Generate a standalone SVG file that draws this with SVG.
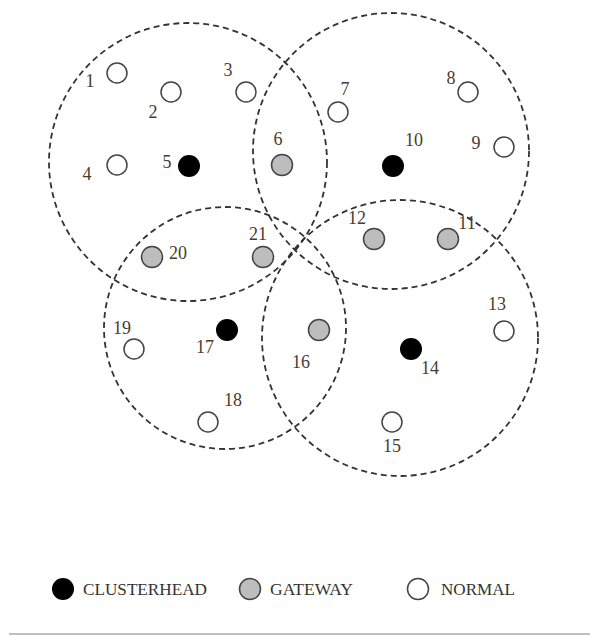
<svg xmlns="http://www.w3.org/2000/svg" width="590" height="635" viewBox="0 0 590 635">
<style>
.range{fill:none;stroke:#333;stroke-width:1.8;stroke-dasharray:6 4}
.ch{fill:#000}
.gw{fill:#bdbdbd;stroke:#444;stroke-width:1.5}
.nm{fill:#fff;stroke:#444;stroke-width:1.5}
.lbl{font-family:"Liberation Serif","Times New Roman",serif;font-size:18px;fill:#4a3c2e;text-anchor:middle}
.leg{font-family:"Liberation Serif","Times New Roman",serif;font-size:16px;fill:#333}
</style>
<rect width="590" height="635" fill="#fff"/>
<g id="ranges">
<circle class="range" cx="188" cy="162" r="139"/>
<circle class="range" cx="391" cy="151" r="138"/>
<circle class="range" cx="225" cy="328" r="121"/>
<circle class="range" cx="400" cy="338" r="138"/>
</g>
<g id="n1"><circle class="nm" cx="117" cy="73" r="10"/><text class="lbl" x="90" y="87">1</text></g>
<g id="n2"><circle class="nm" cx="171" cy="92" r="10"/><text class="lbl" x="153" y="118">2</text></g>
<g id="n3"><circle class="nm" cx="246" cy="92" r="10"/><text class="lbl" x="228" y="76">3</text></g>
<g id="n4"><circle class="nm" cx="117" cy="165" r="10"/><text class="lbl" x="87" y="180">4</text></g>
<g id="n5"><circle class="ch" cx="189" cy="166" r="11"/><text class="lbl" x="167" y="168">5</text></g>
<g id="n6"><circle class="gw" cx="282" cy="165" r="10.5"/><text class="lbl" x="278" y="145">6</text></g>
<g id="n7"><circle class="nm" cx="338" cy="112" r="10"/><text class="lbl" x="345" y="95">7</text></g>
<g id="n8"><circle class="nm" cx="468" cy="92" r="10"/><text class="lbl" x="451" y="84">8</text></g>
<g id="n9"><circle class="nm" cx="504" cy="147" r="10"/><text class="lbl" x="476" y="149">9</text></g>
<g id="n10"><circle class="ch" cx="393" cy="166" r="11"/><text class="lbl" x="414" y="146">10</text></g>
<g id="n11"><circle class="gw" cx="448" cy="239" r="10.5"/><text class="lbl" x="467" y="229">11</text></g>
<g id="n12"><circle class="gw" cx="374" cy="239" r="10.5"/><text class="lbl" x="357" y="224">12</text></g>
<g id="n13"><circle class="nm" cx="504" cy="331" r="10"/><text class="lbl" x="497" y="310">13</text></g>
<g id="n14"><circle class="ch" cx="411" cy="349" r="11"/><text class="lbl" x="430" y="374">14</text></g>
<g id="n15"><circle class="nm" cx="392" cy="422" r="10"/><text class="lbl" x="392" y="452">15</text></g>
<g id="n16"><circle class="gw" cx="319" cy="330" r="10.5"/><text class="lbl" x="301" y="368">16</text></g>
<g id="n17"><circle class="ch" cx="227" cy="330" r="11"/><text class="lbl" x="205" y="353">17</text></g>
<g id="n18"><circle class="nm" cx="208" cy="422" r="10"/><text class="lbl" x="233" y="406">18</text></g>
<g id="n19"><circle class="nm" cx="134" cy="349" r="10"/><text class="lbl" x="122" y="334">19</text></g>
<g id="n20"><circle class="gw" cx="152" cy="257" r="10.5"/><text class="lbl" x="178" y="259">20</text></g>
<g id="n21"><circle class="gw" cx="263" cy="257" r="10.5"/><text class="lbl" x="258" y="240">21</text></g>
<g id="legend">
<circle class="ch" cx="63" cy="589" r="11"/>
<text class="leg" x="83" y="595" textLength="124" lengthAdjust="spacingAndGlyphs">CLUSTERHEAD</text>
<circle class="gw" cx="250" cy="589" r="10.5"/>
<text class="leg" x="270" y="595" textLength="83" lengthAdjust="spacingAndGlyphs">GATEWAY</text>
<circle class="nm" cx="418" cy="589" r="10.5"/>
<text class="leg" x="441" y="595" textLength="74" lengthAdjust="spacingAndGlyphs">NORMAL</text>
</g>
<line x1="9" y1="634" x2="590" y2="634" stroke="#aaa" stroke-width="1.5"/>
</svg>
